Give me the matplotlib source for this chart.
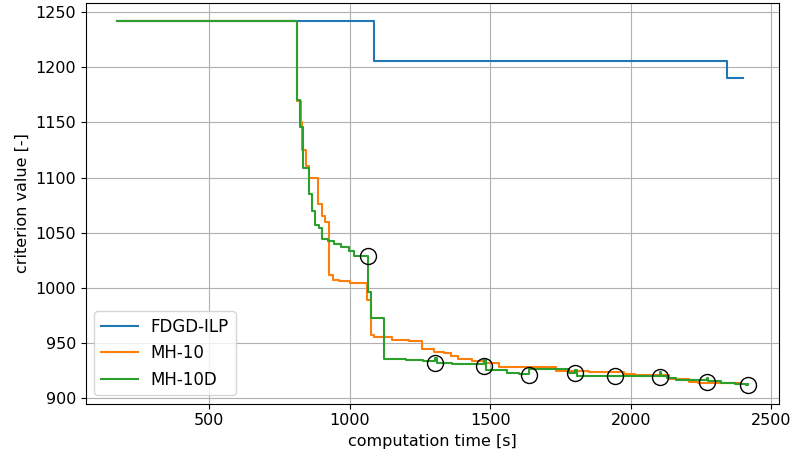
import matplotlib
matplotlib.use("Agg")
import matplotlib.pyplot as plt

plt.rcParams['font.family'] = ['DejaVu Sans']
plt.rcParams['font.size'] = 11.5

# FDGD-ILP (step, post)
fdgd_t = [173, 1085, 2340, 2400]
fdgd_v = [1242, 1206, 1190, 1190]

# MH-10 (step, post)
mh10_t = [173, 813.7, 827, 831, 845, 855, 888, 900, 911, 927, 939, 960, 1000,
          1059.6, 1075, 1085, 1150, 1210, 1258, 1300, 1335, 1360, 1385, 1433,
          1478, 1530, 1732, 1850, 1974, 2016, 2134, 2205, 2240, 2392]
mh10_v = [1242, 1169, 1150, 1125, 1110, 1100, 1076, 1065, 1060, 1012, 1007, 1005.7, 1004.5,
          988.5, 957.4, 955, 953, 952, 944, 942, 940.5, 938, 935, 934,
          932, 928.5, 924.5, 923.5, 922, 920.5, 917, 914.8, 913.7, 913.7]

# MH-10D (step, post)
mh10d_t = [173, 813.7, 823, 834, 855, 867, 875, 890, 900, 924, 944, 968, 997, 1015,
           1066, 1077, 1122, 1200, 1260, 1303, 1310, 1363, 1479, 1486, 1560, 1601,
           1639, 1645, 1779, 1802, 1808, 2102, 2108, 2130, 2160, 2190, 2270, 2275,
           2320, 2370, 2410, 2415]
mh10d_v = [1242, 1170, 1146, 1109, 1085, 1070, 1057, 1054, 1044, 1042, 1040, 1037, 1033, 1029,
           996, 973, 935.5, 934.5, 933.7, 936, 931.8, 931, 934.5, 925, 923, 921.5,
           926, 926.5, 922.7, 925, 919.7, 924, 920, 918.2, 916.7, 916, 918, 915,
           914, 912.5, 911.5, 913]

# diversification points (circles)
div_t = [1066, 1303, 1479, 1639, 1802, 1942, 2102, 2270, 2415]
div_v = [1028.4, 931.8, 929.3, 921.2, 922.7, 919.7, 918.8, 914.6, 911.5]

fig = plt.figure(figsize=(7.95, 4.57), dpi=100)
ax = fig.add_axes([0.108, 0.117, 0.872, 0.877])

ax.plot(fdgd_t, fdgd_v, drawstyle='steps-post', color='#1f77b4', lw=1.5, label='FDGD-ILP')
ax.plot(mh10_t, mh10_v, drawstyle='steps-post', color='#ff7f0e', lw=1.5, label='MH-10')
ax.plot(mh10d_t, mh10d_v, drawstyle='steps-post', color='#2ca02c', lw=1.5, label='MH-10D')
ax.plot(div_t, div_v, linestyle='none', marker='o', markersize=11.5,
        markerfacecolor='none', markeredgecolor='black', markeredgewidth=1.0)

ax.grid(True, color='#b0b0b0', linewidth=0.8)
ax.set_axisbelow(True)
ax.set_xlabel('computation time [s]')
ax.set_ylabel('criterion value [-]')
ax.legend(loc='lower left', fontsize=12, handlelength=2.2)

fig.savefig('out.png', dpi=100)
